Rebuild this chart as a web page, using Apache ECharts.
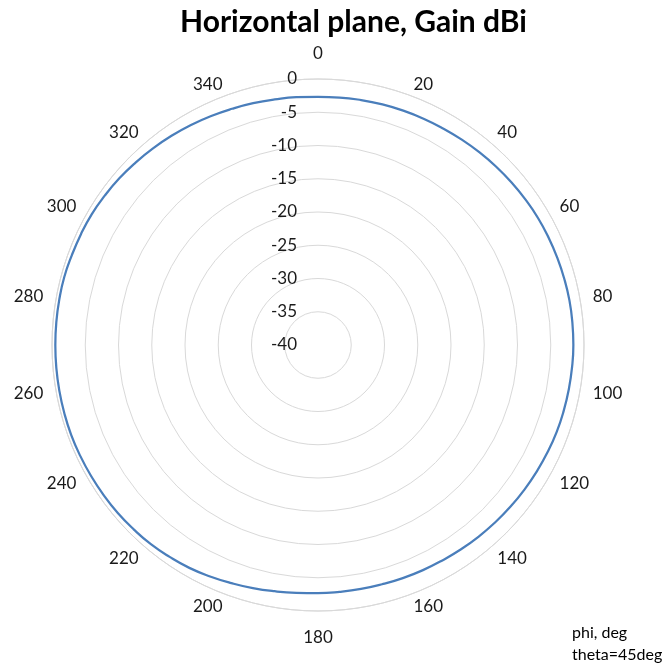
<!DOCTYPE html>
<html>
<head>
<meta charset="utf-8">
<script src="https://cdn.jsdelivr.net/npm/echarts@6/dist/echarts.min.js"></script>
<style>
  html, body { margin: 0; padding: 0; background: #fff; }
  #chart { width: 662px; height: 663px; }
</style>
</head>
<body>
<div id="chart"></div>
<script>
"use strict";

// phi, deg (0..360, last point closes the loop)
const phi = [0, 5, 10, 15, 20, 25, 30, 35, 40, 45, 50, 55, 60, 65, 70, 75, 80, 85,
  90, 95, 100, 105, 110, 115, 120, 125, 130, 135, 140, 145, 150, 155, 160, 165, 170, 175,
  180, 185, 190, 195, 200, 205, 210, 215, 220, 225, 230, 235, 240, 245, 250, 255, 260, 265,
  270, 275, 280, 285, 290, 295, 300, 305, 310, 315, 320, 325, 330, 335, 340, 345, 350, 355, 360];

// gain, dBi
const gain = [-2.7, -2.65, -2.6, -2.55, -2.5, -2.45, -2.4, -2.3, -2.2, -2.1, -2.0, -1.9, -1.8, -1.75, -1.7, -1.65, -1.6, -1.6,
  -1.6, -1.65, -1.7, -1.75, -1.8, -1.9, -2.0, -2.1, -2.2, -2.3, -2.4, -2.5, -2.6, -2.65, -2.7, -2.75, -2.75, -2.75,
  -2.7, -2.6, -2.4, -2.15, -1.9, -1.6, -1.3, -1.1, -0.9, -0.8, -0.7, -0.65, -0.6, -0.55, -0.5, -0.5, -0.5, -0.5,
  -0.5, -0.5, -0.5, -0.5, -0.6, -0.65, -0.7, -0.85, -1.0, -1.2, -1.4, -1.6, -1.8, -2.0, -2.2, -2.35, -2.5, -2.6, -2.7];

const radiusMin = -40;
const radiusMax = 0;
const radiusStep = 5;
const angleStep = 20;

const font = "Lato, 'Open Sans', sans-serif";
const textColor = "#1a1a1a";
const gridColor = "#d9d9d9";

// Excel nudges the phi labels toward the horizontal middle line
const labelStyle = (v) => {
  v = Number(v);
  if (v === 0) return "a";
  if (v === 180) return "b";
  if (v === 80 || v === 100 || v === 260 || v === 280) return "m";
  return v < 90 || v > 270 ? "u" : "d";
};

const chart = echarts.init(document.getElementById("chart"), null, { renderer: "canvas" });

const option = {
  backgroundColor: "#fff",
  animation: false,
  title: [
    {
      text: "Horizontal plane, Gain dBi",
      left: 175,
      top: 2,
      textStyle: { fontFamily: font, fontSize: 30, fontWeight: "bold", color: "#000" },
    },
    {
      text: "phi, deg\ntheta=45deg",
      left: 567,
      top: 617,
      textStyle: { fontFamily: font, fontSize: 16, fontWeight: "normal", color: "#000", lineHeight: 22 },
    },
  ],
  polar: {
    center: [318, 345],
    radius: 266,
  },
  angleAxis: {
    type: "value",
    min: 0,
    max: 360,
    interval: angleStep,
    startAngle: 90,
    clockwise: true,
    axisLine: { show: true, lineStyle: { color: gridColor, width: 1 } },
    axisTick: { show: false },
    splitLine: { show: false },
    axisLabel: {
      margin: 13,
      align: "center",
      verticalAlign: "middle",
      fontFamily: font,
      fontSize: 17,
      color: textColor,
      formatter: (v) => (Number(v) >= 360 ? "" : `{${labelStyle(v)}|${v}}`),
      rich: {
        a: { fontFamily: font, fontSize: 17, color: textColor, padding: [0, 0, 4, 0] },
        b: { fontFamily: font, fontSize: 17, color: textColor, padding: [5, 0, 0, 0] },
        m: { fontFamily: font, fontSize: 17, color: textColor },
        u: { fontFamily: font, fontSize: 17, color: textColor, padding: [0, 0, -10, 0] },
        d: { fontFamily: font, fontSize: 17, color: textColor, padding: [-9, 0, 0, 0] },
      },
    },
  },
  radiusAxis: {
    type: "value",
    min: radiusMin,
    max: radiusMax,
    interval: radiusStep,
    axisLine: { show: false },
    axisTick: { show: false },
    splitLine: { show: true, lineStyle: { color: gridColor, width: 1 } },
    axisLabel: {
      margin: 21,
      fontFamily: font,
      fontSize: 17,
      color: textColor,
    },
  },
  series: [
    {
      type: "line",
      coordinateSystem: "polar",
      data: gain.map((g, i) => [g, phi[i]]),
      smooth: true,
      symbol: "none",
      lineStyle: { color: "#4a7ebb", width: 2.25 },
    },
  ],
};

chart.setOption(option);
</script>
</body>
</html>
